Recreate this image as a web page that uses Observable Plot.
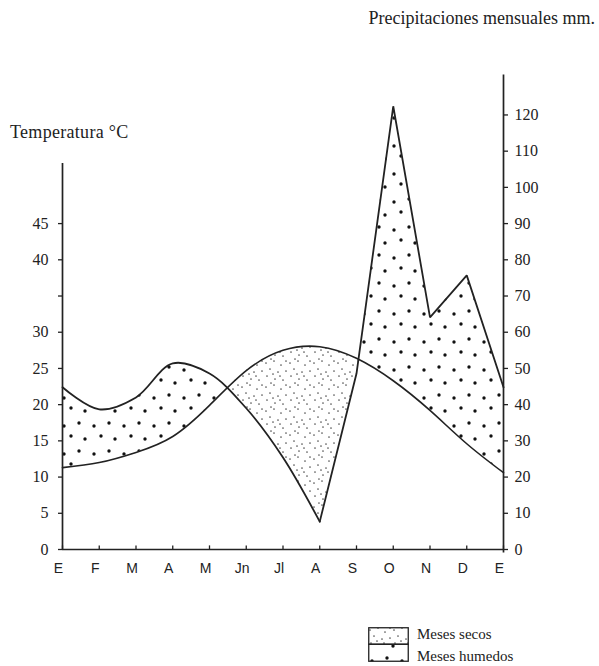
<!DOCTYPE html>
<html>
<head>
<meta charset="utf-8">
<script src="https://cdn.jsdelivr.net/npm/d3@7"></script>
<script src="https://cdn.jsdelivr.net/npm/@observablehq/plot@0.6"></script>
<style>
  html, body { margin: 0; padding: 0; background: #fff; }
  #wrap { position: relative; width: 599px; height: 666px; overflow: hidden; color: #222; font-family: "Liberation Serif", serif; }
  #chart { position: absolute; left: 0; top: 0; }
  .txt { position: absolute; white-space: nowrap; line-height: 18px; }
  #titulo { right: 4px; top: 9px; font-size: 18px; }
  #ylab { left: 10px; top: 123px; font-size: 18px; letter-spacing: 0.3px; }
  #leyenda { position: absolute; left: 368px; top: 627px; font-size: 15px; }
</style>
</head>
<body>
<div id="wrap">
  <div id="chart"></div>
  <div class="txt" id="titulo">Precipitaciones mensuales mm.</div>
  <div class="txt" id="ylab">Temperatura °C</div>
  <div id="leyenda"></div>
</div>
<script>
// ---- data ----
const meses = ["E", "F", "M", "A", "M", "Jn", "Jl", "A", "S", "O", "N", "D", "E"];
const temperatura = [11.3, 12.0, 13.4, 15.6, 19.9, 24.7, 27.5, 28.0, 26.4, 23.3, 19.2, 14.6, 10.6]; // °C
const precipitacion = [44.8, 38.7, 42.0, 51.4, 48.6, 39.0, 25.4, 7.7, 48.6, 122.4, 64.1, 75.7, 44.8]; // mm
const ticksTemp = [0, 5, 10, 15, 20, 25, 30, 35, 40, 45];
const etiquetasTemp = ["0", "5", "10", "15", "20", "25", "30", "", "40", "45"];
const ticksPrec = [0, 10, 20, 30, 40, 50, 60, 70, 80, 90, 100, 110, 120];
const etiquetasPrec = ["0", "10", "20", "30", "40", "50", "60", "70", "80", "90", "100", "110", "120"];
const topeEjeTemp = 53.3;   // °C, top end of the left axis line
const topeEjePrec = 131;    // mm, top end of the right axis line
const finTramoSuave = 7;    // August: the precipitation line is smooth before, angular after
const leyenda = ["Meses secos", "Meses humedos"];

// ---- table ----
const datos = meses.map((m, i) => ({i, mes: m, t: temperatura[i], t2: 2 * temperatura[i], p: precipitacion[i]}));
const tramoSuave = datos.slice(0, finTramoSuave + 1);
const tramoRecto = datos.slice(finTramoSuave);
const indices = datos.map(d => d.i);

const curvaT = "natural";
const curvaP = "catmull-rom";
const tinta = "#222";
const yMax = 132;

const patterns = `
  <pattern id="pat-humedo" patternUnits="userSpaceOnUse" width="30" height="28">
    <circle cx="4" cy="6" r="1.7" fill="#111"/>
    <circle cx="19" cy="3" r="1.7" fill="#111"/>
    <circle cx="11" cy="16" r="1.7" fill="#111"/>
    <circle cx="25" cy="19" r="1.7" fill="#111"/>
  </pattern>
  <pattern id="pat-seco" patternUnits="userSpaceOnUse" width="24" height="24">
    <circle cx="2" cy="3" r="0.85" fill="#555"/>
    <circle cx="10" cy="1" r="0.85" fill="#555"/>
    <circle cx="17" cy="5" r="0.85" fill="#555"/>
    <circle cx="22" cy="11" r="0.85" fill="#555"/>
    <circle cx="6" cy="9" r="0.85" fill="#555"/>
    <circle cx="14" cy="12" r="0.85" fill="#555"/>
    <circle cx="3" cy="16" r="0.85" fill="#555"/>
    <circle cx="11" cy="19" r="0.85" fill="#555"/>
    <circle cx="19" cy="20" r="0.85" fill="#555"/>
    <circle cx="7" cy="23" r="0.85" fill="#555"/>
    <circle cx="22" cy="1" r="0.85" fill="#555"/>
    <circle cx="16" cy="16" r="0.85" fill="#555"/>
    <circle cx="9" cy="14" r="0.85" fill="#555"/>
  </pattern>`;

const plot = Plot.plot({
  width: 599,
  height: 600,
  marginLeft: 62,
  marginRight: 96,
  marginTop: 71,
  marginBottom: 51,
  x: {domain: [0, 12]},
  y: {domain: [0, yMax]},
  style: {fontFamily: "Liberation Serif", fontSize: "16px", color: tinta, background: "transparent", overflow: "visible"},
  marks: [
    // wet months: everything under the precipitation line, then whitened under the temperature line
    Plot.areaY(tramoSuave, {x: "i", y1: 0, y2: "p", curve: curvaP, fill: "url(#pat-humedo)"}),
    Plot.areaY(tramoRecto, {x: "i", y1: 0, y2: "p", curve: "linear", fill: "url(#pat-humedo)"}),
    Plot.areaY(datos, {x: "i", y1: 0, y2: "t2", curve: curvaT, fill: "white"}),
    // dry months: above the precipitation line, clipped to below the temperature line
    Plot.areaY(tramoSuave, {x: "i", y1: "p", y2: yMax, curve: curvaP, fill: "url(#pat-seco)", ariaDescription: "seco"}),
    Plot.areaY(tramoRecto, {x: "i", y1: "p", y2: yMax, curve: "linear", fill: "url(#pat-seco)", ariaDescription: "seco"}),
    Plot.areaY(datos, {x: "i", y1: 0, y2: "t2", curve: curvaT, fill: "black", ariaDescription: "recorte-temp"}),
    // lines
    Plot.line(datos, {x: "i", y: "t2", curve: curvaT, stroke: tinta, strokeWidth: 1.6}),
    Plot.line(tramoSuave, {x: "i", y: "p", curve: curvaP, stroke: tinta, strokeWidth: 1.8, strokeLinejoin: "miter"}),
    Plot.line(tramoRecto, {x: "i", y: "p", curve: "linear", stroke: tinta, strokeWidth: 1.8, strokeLinejoin: "miter"}),
    // axis lines
    Plot.ruleY([0], {x1: 0, x2: 12, stroke: tinta, strokeWidth: 1.5}),
    Plot.ruleX([0], {y1: 0, y2: 2 * topeEjeTemp, stroke: tinta, strokeWidth: 1.7}),
    Plot.ruleX([12], {y1: -1, y2: topeEjePrec, stroke: tinta, strokeWidth: 1.7}),
    Plot.ruleX(indices, {x: d => d, y1: 0, y2: 1, stroke: tinta, strokeWidth: 1.3}),
    // axes
    Plot.axisY(ticksTemp.map(t => 2 * t), {anchor: "left", tickSize: 4, tickPadding: 10, strokeWidth: 1.3,
      tickFormat: d => etiquetasTemp[ticksTemp.indexOf(d / 2)], label: null, fontSize: 16}),
    Plot.axisY(ticksPrec, {anchor: "right", tickSize: 4, tickPadding: 7, strokeWidth: 1.3,
      tickFormat: d => etiquetasPrec[ticksPrec.indexOf(d)], label: null, fontSize: 16}),
    Plot.axisX(indices, {anchor: "bottom", tickSize: 0, tickPadding: 14, dx: -4,
      tickFormat: i => meses[i], label: null, fontFamily: "Liberation Sans", fontSize: 14})
  ]
});

// pattern definitions and the clip path taken from the temperature area
const ns = "http://www.w3.org/2000/svg";
const defs = document.createElementNS(ns, "defs");
defs.innerHTML = patterns;
plot.insertBefore(defs, plot.firstChild);
const gRecorte = plot.querySelector('g[aria-description="recorte-temp"]');
const clip = document.createElementNS(ns, "clipPath");
clip.setAttribute("id", "bajo-temp");
gRecorte.querySelectorAll("path").forEach(p => clip.appendChild(p.cloneNode(true)));
defs.appendChild(clip);
gRecorte.remove();
plot.querySelectorAll('g[aria-description="seco"]').forEach(g => g.setAttribute("clip-path", "url(#bajo-temp)"));

document.getElementById("chart").appendChild(plot);

// legend
const ley = document.getElementById("leyenda");
const box = document.createElementNS(ns, "svg");
box.setAttribute("width", 41);
box.setAttribute("height", 35);
box.style.position = "absolute";
box.style.left = "0px";
box.style.top = "0px";
box.innerHTML = `<defs>${patterns.replaceAll('id="pat-', 'id="ley-')}</defs>
  <rect x="0.75" y="0.75" width="39.5" height="16.5" fill="url(#ley-seco)" stroke="${tinta}" stroke-width="1.3"/>
  <rect x="0.75" y="17.25" width="39.5" height="17" fill="url(#ley-humedo)" stroke="${tinta}" stroke-width="1.3"/>`;
ley.appendChild(box);
leyenda.forEach((t, k) => {
  const d = document.createElement("div");
  d.textContent = t;
  d.style.position = "absolute";
  d.style.left = "49px";
  d.style.top = (k * 22 - 2) + "px";
  d.style.lineHeight = "18px";
  d.style.whiteSpace = "nowrap";
  ley.appendChild(d);
});
</script>
</body>
</html>
